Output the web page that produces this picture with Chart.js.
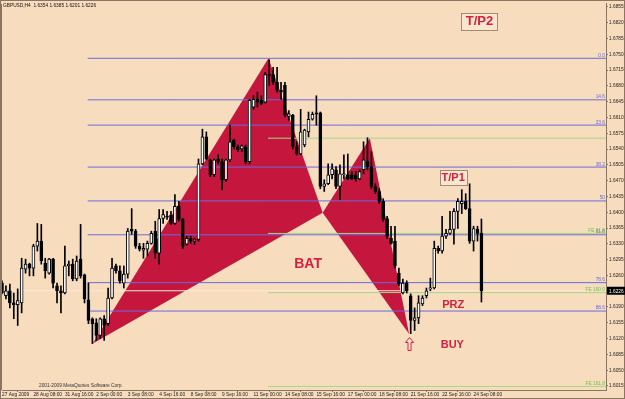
<!DOCTYPE html>
<html>
<head>
<meta charset="utf-8">
<script src="https://cdn.jsdelivr.net/npm/chart.js@4.4.1/dist/chart.umd.min.js"></script>
<style>
  html, body { margin: 0; padding: 0; background: #f7dcbd; }
  canvas { display: block; }
</style>
</head>
<body>
<canvas id="chart" width="625" height="399"></canvas>
<script>
// GBPUSD H4, 27 Aug - 24 Sep 2009 (bar index = H4 bar since 27 Aug 00:00)
const opens = [
  1.6243, 1.6215, 1.6226, 1.6199, 1.6195, 1.6199, 1.6274, 1.6285, 1.6276, 1.6325,
  1.6336, 1.6287, 1.6265, 1.6296, 1.6237, 1.6226, 1.6221, 1.6281, 1.6285, 1.6252,
  1.6296, 1.6261, 1.6206, 1.6164, 1.6155, 1.6127, 1.6164, 1.6153, 1.6210, 1.6281,
  1.6270, 1.6243, 1.6263, 1.6362, 1.6358, 1.6325, 1.6316, 1.6318, 1.6331, 1.6358,
  1.6309, 1.6386, 1.6391, 1.6393, 1.6375, 1.6413, 1.6384, 1.6329, 1.6342, 1.6336,
  1.6340, 1.6507, 1.6567, 1.6516, 1.6483, 1.6518, 1.6512, 1.6472, 1.6516, 1.6560,
  1.6545, 1.6540, 1.6545, 1.6512, 1.6633, 1.6650, 1.6648, 1.6644, 1.6705, 1.6705,
  1.6688, 1.6670, 1.6681, 1.6612, 1.6615, 1.6545, 1.6529, 1.6549, 1.6578, 1.6606,
  1.6620, 1.6620, 1.6457, 1.6463, 1.6483, 1.6494, 1.6457, 1.6483, 1.6483, 1.6483,
  1.6483, 1.6474, 1.6494, 1.6512, 1.6501, 1.6457, 1.6446, 1.6424, 1.6386, 1.6342,
  1.6336, 1.6265, 1.6221, 1.6243, 1.6215, 1.6160, 1.6166, 1.6197, 1.6215, 1.6230,
  1.6232, 1.6320, 1.6314, 1.6347, 1.6353, 1.6362, 1.6402, 1.6419, 1.6424, 1.6408,
  1.6336, 1.6362, 1.6354
];
const highs = [
  1.6248, 1.6237, 1.6241, 1.6221, 1.6230, 1.6298, 1.6296, 1.6287, 1.6329, 1.6375,
  1.6373, 1.6298, 1.6298, 1.6298, 1.6243, 1.6237, 1.6325, 1.6292, 1.6296, 1.6303,
  1.6373, 1.6263, 1.6243, 1.6166, 1.6164, 1.6166, 1.6171, 1.6232, 1.6298, 1.6285,
  1.6281, 1.6281, 1.6364, 1.6408, 1.6362, 1.6331, 1.6331, 1.6336, 1.6358, 1.6380,
  1.6406, 1.6406, 1.6402, 1.6402, 1.6439, 1.6424, 1.6386, 1.6347, 1.6347, 1.6342,
  1.6518, 1.6584, 1.6578, 1.6518, 1.6518, 1.6527, 1.6518, 1.6518, 1.6593, 1.6562,
  1.6549, 1.6549, 1.6549, 1.6650, 1.6658, 1.6666, 1.6658, 1.6710, 1.6738, 1.6721,
  1.6721, 1.6688, 1.6688, 1.6625, 1.6617, 1.6556, 1.6628, 1.6584, 1.6622, 1.6622,
  1.6658, 1.6622, 1.6472, 1.6507, 1.6507, 1.6501, 1.6505, 1.6527, 1.6529, 1.6490,
  1.6490, 1.6494, 1.6556, 1.6565, 1.6534, 1.6463, 1.6452, 1.6430, 1.6391, 1.6369,
  1.6369, 1.6276, 1.6252, 1.6248, 1.6219, 1.6188, 1.6215, 1.6215, 1.6232, 1.6254,
  1.6336, 1.6325, 1.6391, 1.6362, 1.6402, 1.6408, 1.6430, 1.6450, 1.6441, 1.6463,
  1.6369, 1.6369, 1.6385
];
const lows = [
  1.6219, 1.6208, 1.6188, 1.6164, 1.6149, 1.6177, 1.6265, 1.6259, 1.6259, 1.6314,
  1.6285, 1.6254, 1.6263, 1.6232, 1.6199, 1.6177, 1.6219, 1.6259, 1.6248, 1.6248,
  1.6254, 1.6199, 1.6153, 1.6109, 1.6116, 1.6120, 1.6116, 1.6149, 1.6208, 1.6265,
  1.6243, 1.6232, 1.6254, 1.6351, 1.6320, 1.6314, 1.6298, 1.6303, 1.6329, 1.6298,
  1.6285, 1.6375, 1.6384, 1.6373, 1.6373, 1.6380, 1.6320, 1.6327, 1.6331, 1.6329,
  1.6336, 1.6505, 1.6516, 1.6479, 1.6479, 1.6507, 1.6450, 1.6468, 1.6512, 1.6540,
  1.6534, 1.6534, 1.6507, 1.6507, 1.6628, 1.6633, 1.6638, 1.6642, 1.6681, 1.6683,
  1.6666, 1.6650, 1.6611, 1.6604, 1.6540, 1.6527, 1.6527, 1.6545, 1.6567, 1.6604,
  1.6593, 1.6452, 1.6446, 1.6461, 1.6474, 1.6452, 1.6428, 1.6474, 1.6472, 1.6472,
  1.6468, 1.6472, 1.6485, 1.6494, 1.6452, 1.6441, 1.6419, 1.6380, 1.6342, 1.6329,
  1.6276, 1.6237, 1.6219, 1.6221, 1.6131, 1.6138, 1.6153, 1.6193, 1.6210, 1.6226,
  1.6230, 1.6309, 1.6309, 1.6342, 1.6351, 1.6329, 1.6364, 1.6397, 1.6406, 1.6331,
  1.6314, 1.6336, 1.6201
];
const closes = [
  1.6221, 1.6226, 1.6199, 1.6195, 1.6204, 1.6276, 1.6285, 1.6276, 1.6325, 1.6336,
  1.6292, 1.6270, 1.6296, 1.6243, 1.6226, 1.6221, 1.6281, 1.6285, 1.6252, 1.6292,
  1.6259, 1.6208, 1.6160, 1.6153, 1.6127, 1.6164, 1.6149, 1.6210, 1.6276, 1.6270,
  1.6248, 1.6263, 1.6358, 1.6358, 1.6325, 1.6318, 1.6320, 1.6331, 1.6353, 1.6309,
  1.6386, 1.6395, 1.6389, 1.6375, 1.6413, 1.6384, 1.6325, 1.6342, 1.6336, 1.6340,
  1.6507, 1.6567, 1.6518, 1.6483, 1.6516, 1.6512, 1.6472, 1.6516, 1.6556, 1.6545,
  1.6538, 1.6547, 1.6512, 1.6648, 1.6650, 1.6644, 1.6641, 1.6705, 1.6703, 1.6688,
  1.6670, 1.6666, 1.6615, 1.6618, 1.6545, 1.6529, 1.6578, 1.6582, 1.6606, 1.6617,
  1.6617, 1.6457, 1.6463, 1.6483, 1.6496, 1.6457, 1.6485, 1.6485, 1.6474, 1.6474,
  1.6474, 1.6490, 1.6516, 1.6501, 1.6457, 1.6446, 1.6424, 1.6384, 1.6347, 1.6331,
  1.6281, 1.6241, 1.6243, 1.6226, 1.6160, 1.6166, 1.6199, 1.6210, 1.6226, 1.6232,
  1.6320, 1.6314, 1.6347, 1.6353, 1.6362, 1.6402, 1.6424, 1.6424, 1.6408, 1.6336,
  1.6364, 1.6353, 1.6226
];

// axis ticks
const priceTicks = [1.6855, 1.6820, 1.6785, 1.6750, 1.6715, 1.6680, 1.6645, 1.6610, 1.6575,
  1.6540, 1.6505, 1.6470, 1.6435, 1.6400, 1.6365, 1.6330, 1.6295, 1.6260, 1.6190,
  1.6155, 1.6120, 1.6085, 1.6050, 1.6015];
const timeTickBars = [0, 8, 16, 24, 32, 40, 48, 56, 64, 72, 80, 88, 96, 104, 112, 120];
const timeTickLabels = ['27 Aug 2009', '28 Aug 08:00', '31 Aug 16:00', '2 Sep 00:00',
  '3 Sep 08:00', '4 Sep 16:00', '8 Sep 08:00', '9 Sep 16:00', '11 Sep 00:00',
  '14 Sep 08:00', '15 Sep 16:00', '17 Sep 00:00', '18 Sep 08:00', '21 Sep 16:00',
  '22 Sep 16:00', '24 Sep 08:00'];

// XABCD bat pattern
const patternNames = ['X', 'A', 'B', 'C', 'D'];
const patternBars = [23.1, 67.8, 81.6, 93.6, 103.6];
const patternPrices = [1.6109, 1.6741, 1.6399, 1.6564, 1.6130];

// fibo retracement (blue) and expansion (green)
const fibStartBar = 21.8;
const fibLevels = [1.6741, 1.6649, 1.6593, 1.6500, 1.6425, 1.6350, 1.6244, 1.6181];
const fibNames = ['0.0', '14.6', '23.6', '38.2', '50', '61.8', '78.6', '88.6'];
const feStartBar = 67.7;
const feLevels = [1.6564, 1.6353, 1.6222, 1.6014];
const feNames = ['', 'FE 61.8', 'FE 100.0', 'FE 161.8'];

// text labels on the chart
const noteTexts = ['T/P2', 'T/P1', 'BAT', 'PRZ', 'BUY'];
const noteBars = [121.5, 114.8, 77.9, 114.8, 114.6];
const notePrices = [1.6823, 1.6476, 1.6287, 1.6196, 1.6107];
const buyArrowBar = 103.7;
const buyArrowPrice = 1.6108;

const symbolTitle = 'GBPUSD,H4  1.6354 1.6385 1.6201 1.6226';
const copyright = '2001-2009 MetaQuotes Software Corp.';

const BG = '#f7dcbd';
const RED = '#c5173e';
const TXTRED = '#d3213f';
const BLUE = '#6a6ae0';
const GREEN = '#a6d884';
const FRAME = '#8a7560';
const SMALL = '4.8px "Liberation Sans", Arial, sans-serif';
const noteStyle = {
    'T/P2': { size: 13, box: [36, 17] },
    'T/P1': { size: 11, box: [27, 15] },
    'BAT': { size: 14 },
    'PRZ': { size: 11 },
    'BUY': { size: 11 }
};

const lastBar = opens.length - 1;
const xMax = 153.7;

const wickData = highs.map((h, i) => ({ x: i, y: [lows[i], h] }));
const bodyData = opens.map((o, i) => ({ x: i, y: [Math.min(o, closes[i]), Math.max(o, closes[i])] }));
const bodyColors = opens.map((o, i) => (closes[i] >= o ? '#ffffff' : '#000000'));

function triangle(a, b, c) {
    return [a, b, c, a].map(k => ({ x: patternBars[k], y: patternPrices[k] }));
}

function hLine(level, fromBar, color) {
    return {
        type: 'line', order: 4,
        data: [{ x: fromBar, y: level }, { x: xMax, y: level }],
        borderColor: color, borderWidth: 1, pointRadius: 0, fill: false
    };
}

const datasets = [
    { type: 'line', order: 6, data: triangle(0, 1, 2), borderWidth: 0, borderColor: RED,
      backgroundColor: RED, fill: 'shape', pointRadius: 0, tension: 0 },
    { type: 'line', order: 6, data: triangle(2, 3, 4), borderWidth: 0, borderColor: RED,
      backgroundColor: RED, fill: 'shape', pointRadius: 0, tension: 0 },
    hLine(closes[lastBar], 0, '#fbead5'),
    ...fibLevels.map(l => hLine(l, fibStartBar, BLUE)),
    ...feLevels.map(l => hLine(l, feStartBar, GREEN)),
    { type: 'bar', order: 2, data: wickData, backgroundColor: '#000', barThickness: 1,
      grouped: false },
    { type: 'bar', order: 1, data: bodyData, backgroundColor: bodyColors, borderColor: '#000',
      borderWidth: 1, borderSkipped: false, barThickness: 3, minBarLength: 1, grouped: false }
];

// tekst, pijl en kader
const mt4Decor = {
    id: 'mt4Decor',
    beforeDraw(chart) {
        const c = chart.ctx;
        c.save();
        c.fillStyle = BG;
        c.fillRect(0, 0, chart.width, chart.height);
        c.restore();
    },
    afterDatasetsDraw(chart) {
        const c = chart.ctx;
        const xs = chart.scales.x, ys = chart.scales.y;
        const right = chart.chartArea.right;
        c.save();
        c.font = SMALL;
        c.textAlign = 'right';
        c.textBaseline = 'bottom';
        fibLevels.forEach((l, i) => {
            c.fillStyle = BLUE;
            c.fillText(fibNames[i], right - 1, ys.getPixelForValue(l) - 0.5);
        });
        feLevels.forEach((l, i) => {
            c.fillStyle = '#6cc24a';
            c.fillText(feNames[i], right - 1, ys.getPixelForValue(l) - 0.5);
        });

        // notes
        c.textAlign = 'center';
        c.textBaseline = 'middle';
        noteTexts.forEach((t, i) => {
            const st = noteStyle[t];
            const px = xs.getPixelForValue(noteBars[i]);
            const py = ys.getPixelForValue(notePrices[i]);
            c.font = 'bold ' + st.size + 'px "Liberation Sans", Arial, sans-serif';
            if (st.box) {
                const [w, h] = st.box;
                const bx = Math.round(px - w / 2) + 0.5, by = Math.round(py - h / 2) + 0.5;
                c.fillStyle = '#fae6cf';
                c.fillRect(bx, by, w, h);
                c.strokeStyle = '#a38a72';
                c.lineWidth = 1;
                c.strokeRect(bx, by, w, h);
            }
            c.fillStyle = TXTRED;
            c.fillText(t, px, py + 0.5);
        });

        // buy arrow
        const ax = xs.getPixelForValue(buyArrowBar);
        const ay = ys.getPixelForValue(buyArrowPrice);
        c.beginPath();
        c.moveTo(ax, ay - 6.5);
        c.lineTo(ax + 4, ay - 1.5);
        c.lineTo(ax + 1.5, ay - 1.5);
        c.lineTo(ax + 1.5, ay + 6.5);
        c.lineTo(ax - 1.5, ay + 6.5);
        c.lineTo(ax - 1.5, ay - 1.5);
        c.lineTo(ax - 4, ay - 1.5);
        c.closePath();
        c.fillStyle = '#fbe9d6';
        c.fill();
        c.strokeStyle = TXTRED;
        c.lineWidth = 1;
        c.stroke();
        c.restore();
    },
    afterDraw(chart) {
        const c = chart.ctx;
        const ys = chart.scales.y;
        const area = chart.chartArea;
        c.save();
        c.strokeStyle = FRAME;
        c.lineWidth = 1;
        c.strokeRect(0.5, 0.5, chart.width - 1, chart.height - 1);
        c.beginPath();
        c.moveTo(area.left - 0.5, area.top);
        c.lineTo(area.left - 0.5, area.bottom);
        c.stroke();

        c.font = SMALL;
        c.fillStyle = '#111';
        c.textAlign = 'left';
        c.textBaseline = 'middle';
        c.fillText(symbolTitle, 3, 6);
        c.fillStyle = '#333';
        c.fillText(copyright, 39, 386);

        // current price box
        const py = ys.getPixelForValue(closes[lastBar]);
        c.fillStyle = '#000';
        c.fillRect(area.right + 1, py - 4, 19, 8);
        c.fillStyle = '#fff';
        c.fillText(closes[lastBar].toFixed(4), area.right + 3, py + 0.5);
        c.restore();
    }
};

new Chart(document.getElementById('chart'), {
    type: 'bar',
    data: { datasets },
    options: {
        responsive: false,
        animation: false,
        events: [],
        layout: { padding: { left: 2, top: 1, right: 0, bottom: 0 } },
        plugins: { legend: { display: false }, tooltip: { enabled: false } },
        scales: {
            x: {
                type: 'linear', min: 0, max: xMax, offset: false,
                afterBuildTicks: s => { s.ticks = timeTickBars.map(v => ({ value: v })); },
                afterFit: s => { s.height = 9; },
                grid: { drawOnChartArea: false, tickLength: 2, color: FRAME },
                border: { display: true, color: FRAME },
                ticks: { autoSkip: false, maxRotation: 0, align: 'start', padding: 0,
                    color: '#222', font: { size: 4.8, family: '"Liberation Sans", Arial' },
                    callback: (v, i) => timeTickLabels[i] }
            },
            y: {
                type: 'linear', position: 'right', min: 1.60061, max: 1.68616,
                afterBuildTicks: s => { s.ticks = priceTicks.map(v => ({ value: v })); },
                afterFit: s => { s.width = 19; },
                grid: { drawOnChartArea: false, tickLength: 2, color: FRAME },
                border: { display: true, color: FRAME },
                ticks: { padding: 1, color: '#222', font: { size: 4.8, family: '"Liberation Sans", Arial' },
                    callback: v => v.toFixed(4) }
            }
        }
    },
    plugins: [mt4Decor]
});
</script>
</body>
</html>
